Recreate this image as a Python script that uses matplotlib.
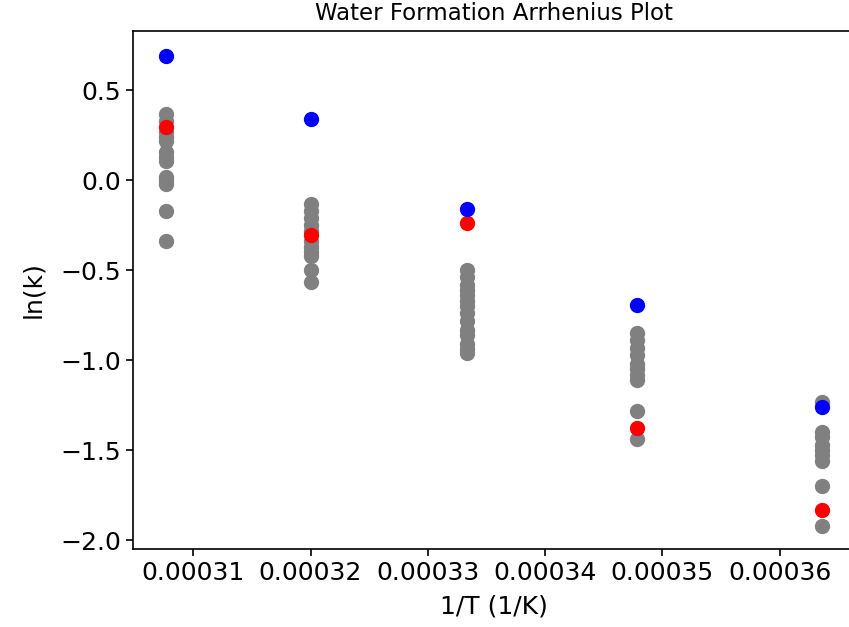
import numpy as np
import matplotlib
matplotlib.use("Agg")
import matplotlib.pyplot as plt

# temperatures (K) and the ln(k) values
T = np.array([3250, 3125, 3000, 2875, 2750])

# individual runs (gray)
runs_3250 = [0.37, 0.33, 0.27, 0.24, 0.22, 0.16, 0.13, 0.11, 0.02, 0.0, -0.02, -0.17, -0.34]
runs_3125 = [-0.13, -0.17, -0.21, -0.25, -0.28, -0.34, -0.37, -0.40, -0.42, -0.50, -0.565]
runs_3000 = [-0.50, -0.54, -0.58, -0.61, -0.64, -0.67, -0.70, -0.74, -0.78, -0.83, -0.86, -0.91, -0.94, -0.96]
runs_2875 = [-0.85, -0.89, -0.93, -0.97, -1.02, -1.05, -1.08, -1.11, -1.28, -1.44]
runs_2750 = [-1.23, -1.40, -1.43, -1.47, -1.50, -1.53, -1.56, -1.70, -1.92]

# averaged (red) and reference (blue)
lnk_mean = [0.296, -0.302, -0.235, -1.38, -1.835]
lnk_ref = [0.693, 0.343, -0.161, -0.693, -1.26]

runs = [runs_3250, runs_3125, runs_3000, runs_2875, runs_2750]
inv_T = 1.0 / T

gx = np.concatenate([[x] * len(r) for x, r in zip(inv_T, runs)])
gy = np.concatenate(runs)

fig = plt.figure(figsize=(8.49, 6.27), dpi=100)
# the original picture is cropped, the right spine falls just outside the canvas
ax = fig.add_axes([133 / 849, 78 / 627, 722 / 849, 518 / 627])

ax.scatter(gx, gy, color='gray', s=100)
ax.scatter(inv_T, lnk_mean, color='red', s=100)
ax.scatter(inv_T, lnk_ref, color='blue', s=100)

ax.set_xlim(0.00030486, 0.00036643)
ax.set_ylim(-2.05, 0.83)
ax.set_xticks([0.00031, 0.00032, 0.00033, 0.00034, 0.00035, 0.00036])
ax.set_xticklabels(['0.00031', '0.00032', '0.00033', '0.00034', '0.00035', '0.00036'])
ax.set_yticks([0.5, 0.0, -0.5, -1.0, -1.5, -2.0])
ax.set_yticklabels(['0.5', '0.0', '\u22120.5', '\u22121.0', '\u22121.5', '\u22122.0'])

ax.tick_params(labelsize=18, length=5, width=1.2)
for sp in ax.spines.values():
    sp.set_linewidth(1.2)

ax.set_xlabel('1/T (1/K)', fontsize=18, labelpad=7)
ax.set_ylabel('ln(k)', fontsize=18, labelpad=11)
ax.set_title('Water Formation Arrhenius Plot', fontsize=16.5, pad=8)

fig.savefig('out.png', dpi=100)
